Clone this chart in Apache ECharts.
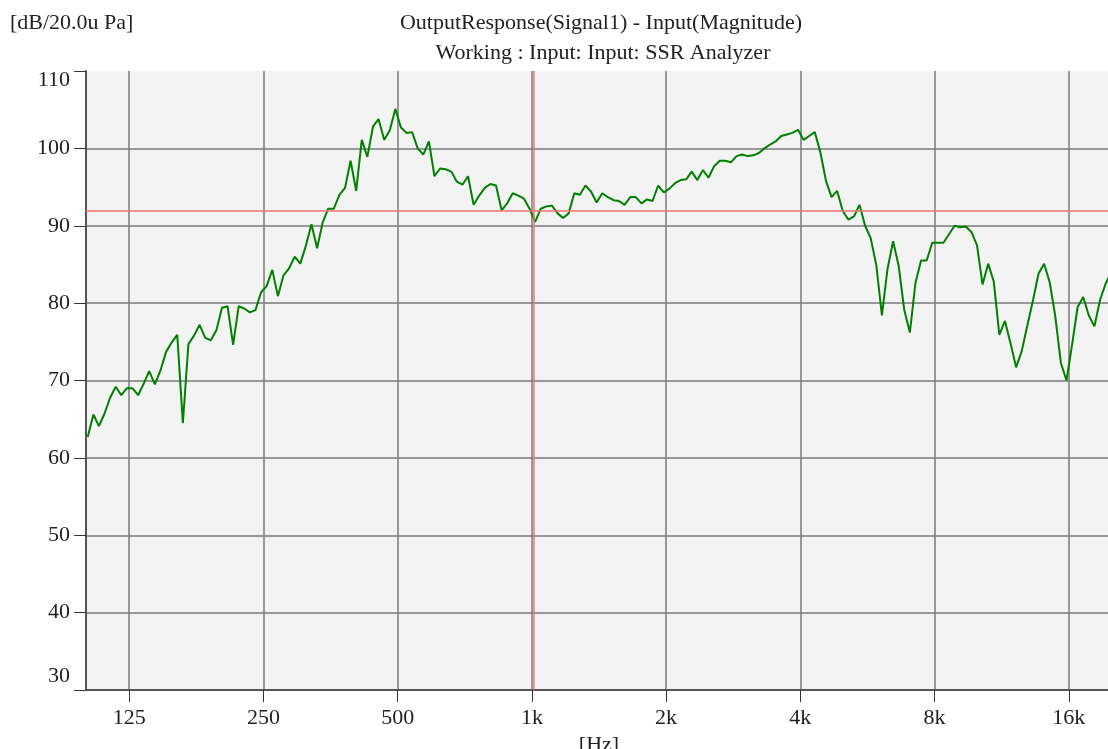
<!DOCTYPE html>
<html lang="en">
<head>
  <meta charset="UTF-8">
  <title>Output Response</title>
  <script src="https://cdn.jsdelivr.net/npm/echarts@6/dist/echarts.min.js"></script>
  <style>
    html, body { margin: 0; padding: 0; background: #fff; }
    #chart { width: 1108px; height: 749px; }
  </style>
</head>
<body>
  <div id="chart"></div>
  <script>
    // 1/24 octave analysis bins [Hz]
    var freqs = [
      100.9, 103.9, 106.9, 110.0, 113.3, 116.6, 120.0, 123.5, 127.1, 130.9, 134.7, 138.6,
      142.7, 146.9, 151.2, 155.6, 160.2, 164.9, 169.7, 174.7, 179.8, 185.1, 190.5, 196.1,
      201.8, 207.7, 213.8, 220.0, 226.5, 233.1, 239.9, 247.0, 254.2, 261.7, 269.4, 277.3,
      285.4, 293.8, 302.4, 311.2, 320.4, 329.8, 339.4, 349.3, 359.6, 370.1, 381.0, 392.1,
      403.6, 415.4, 427.6, 440.1, 453.0, 466.3, 480.0, 494.0, 508.5, 523.4, 538.7, 554.5,
      570.8, 587.5, 604.7, 622.4, 640.7, 659.5, 678.8, 698.7, 719.1, 740.2, 761.9, 784.2,
      807.2, 830.9, 855.2, 880.3, 906.1, 932.6, 959.9, 988.1, 1017, 1047, 1077, 1109,
      1142, 1175, 1209, 1245, 1281, 1319, 1358, 1397, 1438, 1480, 1524, 1568,
      1614, 1662, 1710, 1761, 1812, 1865, 1920, 1976, 2034, 2094, 2155, 2218,
      2283, 2350, 2419, 2490, 2563, 2638, 2715, 2795, 2877, 2961, 3048, 3137,
      3229, 3323, 3421, 3521, 3624, 3730, 3840, 3952, 4068, 4187, 4310, 4436,
      4566, 4700, 4838, 4980, 5125, 5276, 5430, 5589, 5753, 5922, 6095, 6274,
      6458, 6647, 6842, 7042, 7248, 7461, 7680, 7905, 8136, 8375, 8620, 8873,
      9133, 9400, 9675, 9959, 10251, 10551, 10860, 11178, 11506, 11843, 12190, 12548,
      12915, 13294, 13683, 14084, 14497, 14922, 15359, 15809, 16272, 16749, 17240, 17745,
      18265, 18800, 19351, 19918
    ];
    // magnitude [dB re 20uPa]
    var levels = [
      62.7, 65.6, 64.1, 65.7, 67.8, 69.2, 68.1, 69.0, 69.0, 68.1, 69.6, 71.2,
      69.5, 71.3, 73.7, 74.9, 75.9, 64.5, 74.7, 75.8, 77.2, 75.5, 75.2, 76.5,
      79.4, 79.6, 74.6, 79.6, 79.3, 78.8, 79.1, 81.4, 82.2, 84.3, 80.9, 83.6,
      84.5, 86.0, 85.1, 87.4, 90.2, 87.1, 90.4, 92.2, 92.2, 94.0, 94.9, 98.4,
      94.5, 101.1, 98.9, 102.8, 103.8, 101.1, 102.3, 105.1, 102.7, 102.0, 102.1, 100.0,
      99.2, 100.9, 96.4, 97.4, 97.3, 97.0, 95.7, 95.3, 96.4, 92.7, 93.9, 94.9,
      95.4, 95.2, 92.0, 92.9, 94.2, 93.9, 93.5, 92.2, 90.5, 92.2, 92.5, 92.6,
      91.6, 91.0, 91.6, 94.2, 94.0, 95.2, 94.4, 93.0, 94.2, 93.7, 93.3, 93.2,
      92.7, 93.7, 93.7, 92.9, 93.4, 93.2, 95.2, 94.3, 94.8, 95.5, 95.9, 96.0,
      97.0, 95.9, 97.2, 96.2, 97.7, 98.4, 98.4, 98.2, 99.0, 99.2, 99.0, 99.1,
      99.4, 100.0, 100.5, 100.9, 101.6, 101.8, 102.0, 102.4, 101.1, 101.6, 102.1, 99.5,
      95.8, 93.7, 94.5, 91.9, 90.8, 91.2, 92.7, 90.0, 88.4, 84.9, 78.4, 84.4,
      88.0, 84.8, 79.1, 76.2, 82.6, 85.5, 85.5, 87.8, 87.8, 87.8, 88.9, 90.0,
      89.8, 89.9, 89.2, 87.5, 82.4, 85.1, 82.8, 75.9, 77.7, 74.8, 71.7, 73.8,
      77.1, 80.3, 83.8, 85.1, 82.7, 78.3, 72.3, 70.0, 74.6, 79.5, 80.8, 78.4,
      77.0, 80.4, 82.5, 84.0
    ];
    var tickHz = [125, 250, 500, 1000, 2000, 4000, 8000, 16000];
    var tickText = ['125', '250', '500', '1k', '2k', '4k', '8k', '16k'];
    var cursorHz = 1010;
    var cursorDb = 92;

    var font = "'Liberation Serif', 'DejaVu Serif', serif";
    var data = freqs.map(function (f, i) { return [f, levels[i]]; });

    var chart = echarts.init(document.getElementById('chart'));
    chart.setOption({
      animation: false,
      backgroundColor: '#ffffff',
      graphic: [
        { type: 'text', x: 601, y: 12, style: { text: 'OutputResponse(Signal1) - Input(Magnitude)', textAlign: 'center', fill: '#222', font: '22px ' + font } },
        { type: 'text', x: 603, y: 42, style: { text: 'Working : Input: Input: SSR Analyzer', textAlign: 'center', fill: '#222', font: '22px ' + font } },
        { type: 'text', x: 10, y: 12, style: { text: '[dB/20.0u Pa]', fill: '#222', font: '22px ' + font } }
      ],
      grid: {
        left: 86, right: -4, top: 71, bottom: 59,
        containLabel: false, outerBoundsMode: 'none',
        show: true, backgroundColor: '#f3f3f3', borderWidth: 0
      },
      xAxis: {
        type: 'log', logBase: 2, min: 100, max: 20000,
        name: '[Hz]', nameLocation: 'middle', nameGap: 38,
        nameTextStyle: { color: '#222', fontSize: 22, fontFamily: font },
        axisLine: { lineStyle: { color: '#555', width: 2 } },
        axisTick: { show: true, length: 12, customValues: tickHz, lineStyle: { color: '#333', width: 1 } },
        axisLabel: {
          customValues: tickHz, margin: 17, color: '#222', fontSize: 22, fontFamily: font,
          formatter: function (v) { return tickText[tickHz.indexOf(Math.round(v))] || ''; }
        },
        splitLine: { show: true, customValues: tickHz, lineStyle: { color: '#7a7a7a', width: 1.5 } },
        minorTick: { show: false }
      },
      yAxis: {
        type: 'value', min: 30, max: 110, interval: 10,
        axisLine: { show: true, lineStyle: { color: '#555', width: 2 } },
        axisTick: { show: true, length: 12, lineStyle: { color: '#333', width: 1 } },
        axisLabel: {
          margin: 16, color: '#222', fontSize: 22, fontFamily: font,
          formatter: function (v) {
            if (v === 110) return '{top|110}';
            if (v === 30) return '{bot|30}';
            return String(v);
          },
          rich: {
            top: { fontSize: 22, fontFamily: font, color: '#222', padding: [18, 0, 0, 0] },
            bot: { fontSize: 22, fontFamily: font, color: '#222', padding: [0, 0, 28, 0] }
          }
        },
        splitLine: { show: true, showMaxLine: false, lineStyle: { color: '#7a7a7a', width: 1.5 } }
      },
      series: [{
        type: 'line',
        data: data,
        showSymbol: false,
        lineStyle: { color: '#008000', width: 2 },
        itemStyle: { color: '#008000' },
        z: 3,
        markLine: {
          silent: true,
          symbol: 'none',
          label: { show: false },
          lineStyle: { color: '#f07272', width: 1.5, type: 'solid' },
          data: [{ xAxis: cursorHz }, { yAxis: cursorDb }]
        }
      }]
    });
  </script>
</body>
</html>
